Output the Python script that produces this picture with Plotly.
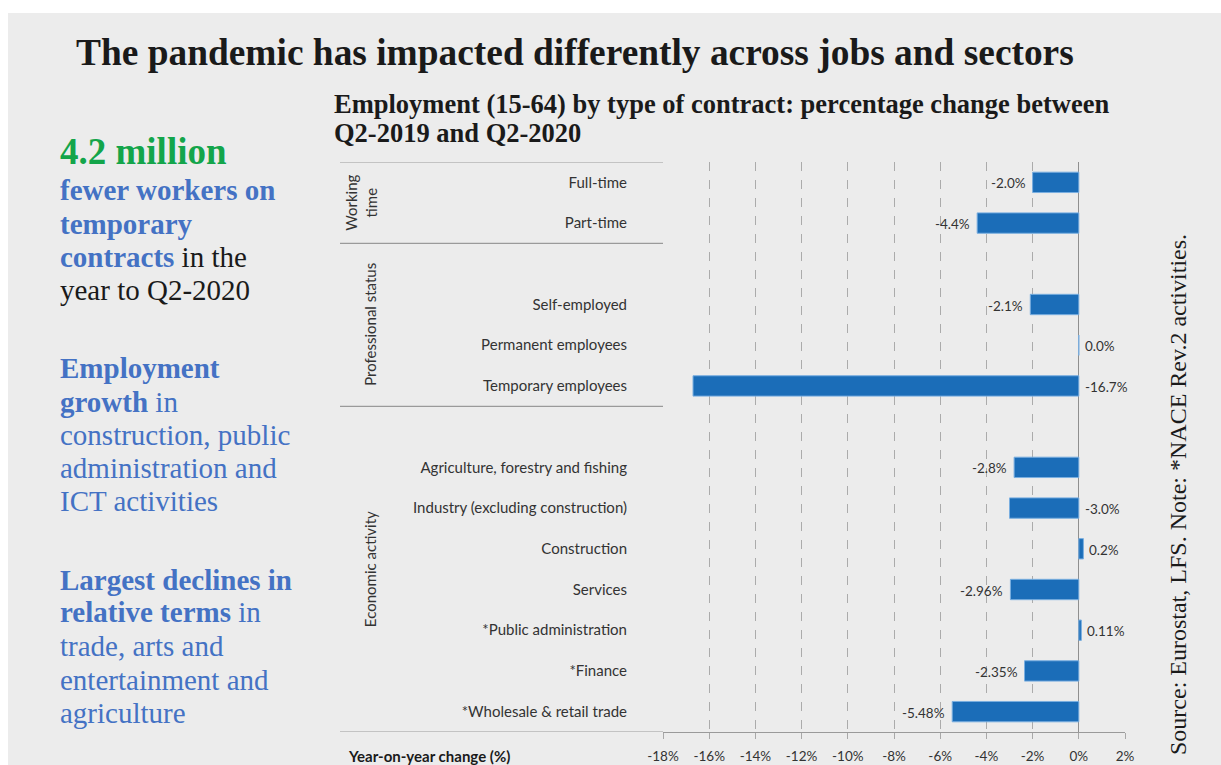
import plotly.graph_objects as go

# ---------------- data ----------------
groups = ["Working time", "Professional status", "Economic activity"]
group_labels = ["Working<br>time", "Professional status", "Economic activity"]
categories = [
    "Full-time", "Part-time",
    "Self-employed", "Permanent employees", "Temporary employees",
    "Agriculture, forestry and fishing", "Industry (excluding construction)",
    "Construction", "Services", "*Public administration", "*Finance",
    "*Wholesale & retail trade",
]
category_group = ["Working time"] * 2 + ["Professional status"] * 3 + ["Economic activity"] * 7
values = [-2.0, -4.4, -2.1, 0.0, -16.7, -2.8, -3.0, 0.2, -2.96, 0.11, -2.35, -5.48]
value_labels = ["-2.0%", "-4.4%", "-2.1%", "0.0%", "-16.7%", "-2.8%", "-3.0%",
                "0.2%", "-2.96%", "0.11%", "-2.35%", "-5.48%"]
# labels drawn next to the axis instead of at the bar end
labels_at_axis = {"Temporary employees", "Industry (excluding construction)"}
x_ticks = [-18, -16, -14, -12, -10, -8, -6, -4, -2, 0, 2]
x_tick_labels = ["-18%", "-16%", "-14%", "-12%", "-10%", "-8%", "-6%", "-4%", "-2%", "0%", "2%"]

# ---------------- layout geometry ----------------
W, H = 1221, 765
L, R, T, B = 663, 1125, 162, 732
PW, PH = R - L, B - T

def px(x):
    return (x - L) / PW

def py(y):
    return 1 - (y - T) / PH

# row positions: each group after the first starts with an empty row
rows = []
group_span = {}
pos = 0
for gi, g in enumerate(groups):
    start = pos
    if gi > 0:
        pos += 1
    for c, cg in zip(categories, category_group):
        if cg == g:
            rows.append(pos)
            pos += 1
    group_span[g] = (start, pos - 1)
n_rows = pos

BAR = "#1B6DB8"
TXT = "#333333"
BLUE = "#4472C4"
GREEN = "#13A54A"
SANS = "Lato"
SERIF = "Liberation Serif"

fig = go.Figure()
fig.add_trace(go.Bar(
    x=values, y=rows, orientation="h", width=0.5,
    marker=dict(color=BAR, line=dict(color="#79AEE0", width=1)),
    hoverinfo="skip",
))

annotations = []
for c, v, lab, r in zip(categories, values, value_labels, rows):
    if v < 0 and c not in labels_at_axis:
        annotations.append(dict(x=v, y=r, xref="x", yref="y", text=lab, showarrow=False,
                                xanchor="right", xshift=-5, yshift=-1,
                                font=dict(family=SANS, size=13.5, color=TXT)))
    else:
        annotations.append(dict(x=max(v, 0), y=r, xref="x", yref="y", text=lab, showarrow=False,
                                xanchor="left", xshift=4, yshift=-1,
                                font=dict(family=SANS, size=13.5, color=TXT)))

# group labels (rotated)
group_x = {"Working time": 361, "Professional status": 370, "Economic activity": 370}
for g, gl in zip(groups, group_labels):
    a, b = group_span[g]
    annotations.append(dict(x=px(group_x[g]), y=(a + b) / 2, xref="paper", yref="y",
                            text=gl, textangle=-90, showarrow=False,
                            xanchor="center", yanchor="middle",
                            font=dict(family=SANS, size=15, color=TXT)))

# separators in the label area
shapes = []
seps = [group_span[g][0] - 0.5 for g in groups] + [n_rows - 0.5]
for s in seps:
    shapes.append(dict(type="line", xref="paper", yref="y", x0=px(340), x1=px(663),
                       y0=s, y1=s, line=dict(color="#9A9A9A", width=1.2)))
# grey background
shapes.insert(0, dict(type="rect", xref="paper", yref="paper", x0=px(8), x1=px(W + 5),
                      y0=py(H + 5), y1=py(13), fillcolor="#ECECEC", line=dict(width=0),
                      layer="below"))

# titles and texts
def txt(x, y, text, size, color="#1a1a1a", family=SERIF, xanchor="left", angle=0, yanchor="middle"):
    annotations.append(dict(x=px(x), y=py(y), xref="paper", yref="paper", text=text,
                            showarrow=False, xanchor=xanchor, yanchor=yanchor, textangle=angle,
                            align="left", font=dict(family=family, size=size, color=color)))

txt(74, 52, "<b>The pandemic has impacted differently across jobs and sectors</b>", 37.4, "#1a1a1a")
txt(332, 104, "<b>Employment (15-64) by type of contract: percentage change between</b>", 26.5, "#1a1a1a")
txt(332, 133, "<b>Q2-2019 and Q2-2020</b>", 26.5, "#1a1a1a")

K = "<span style='color:#1a1a1a'>"
left_lines = [
    (152, "<b>4.2 million</b>", 37, GREEN),
    (190, "<b>fewer workers on</b>", 29, BLUE),
    (224, "<b>temporary</b>", 29, BLUE),
    (257, "<b>contracts</b>" + K + " in the</span>", 29, BLUE),
    (290, K + "year to Q2-2020</span>", 29, BLUE),
    (368, "<b>Employment</b>", 29, BLUE),
    (402, "<b>growth</b> in", 29, BLUE),
    (435, "construction, public", 29, BLUE),
    (468, "administration and", 29, BLUE),
    (501, "ICT activities", 29, BLUE),
    (580, "<b>Largest declines in</b>", 29, BLUE),
    (612, "<b>relative terms</b> in", 29, BLUE),
    (646, "trade, arts and", 29, BLUE),
    (680, "entertainment and", 29, BLUE),
    (713, "agriculture", 29, BLUE),
]
for y, t, s, c in left_lines:
    txt(58, y, t, s, c)

txt(1178, 495, "Source: Eurostat, LFS. Note: *NACE Rev.2 activities.", 24, "#1a1a1a",
    xanchor="center", angle=-90)
txt(346, 756, "<b>Year-on-year change (%)</b>", 15, "#1a1a1a", family=SANS)

fig.update_layout(
    width=W, height=H, autosize=False,
    margin=dict(l=L, r=W - R, t=T, b=H - B, pad=0, autoexpand=False),
    paper_bgcolor="white", plot_bgcolor="rgba(0,0,0,0)",
    showlegend=False, bargap=0.5,
    annotations=annotations, shapes=shapes,
    xaxis=dict(range=[-18, 2], tickvals=x_ticks, ticktext=x_tick_labels, automargin=False,
               showgrid=True, gridcolor="#ABABAB", griddash="dash", gridwidth=1,
               zeroline=True, zerolinecolor="#8F8F8F", zerolinewidth=1.2,
               showline=True, linecolor="#9A9A9A", linewidth=1.2,
               ticks="outside", ticklen=6, tickcolor="#A8A8A8", ticklabelstandoff=6,
               tickfont=dict(family=SANS, size=13.5, color=TXT), fixedrange=True),
    yaxis=dict(range=[n_rows - 0.5, -0.5], tickvals=rows, ticktext=categories, automargin=False,
               showgrid=False, zeroline=False, ticks="", ticklabelstandoff=35,
               tickfont=dict(family=SANS, size=15, color=TXT), fixedrange=True),
)

fig.write_html("out.html", config={"displayModeBar": False, "responsive": False},
               post_script="document.body.style.margin='0';document.body.style.overflow='hidden';")
